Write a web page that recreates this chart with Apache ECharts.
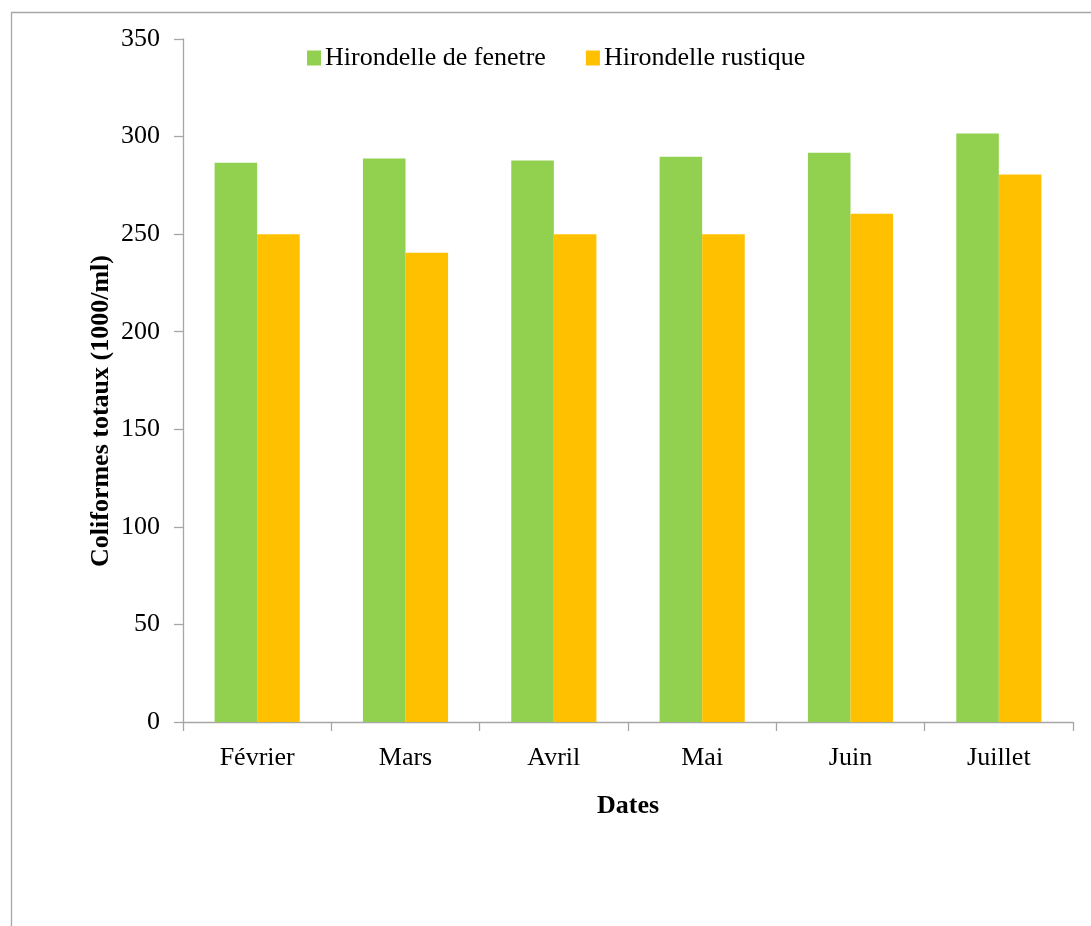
<!DOCTYPE html>
<html>
<head>
<meta charset="utf-8">
<script src="https://cdn.jsdelivr.net/npm/echarts@6/dist/echarts.min.js"></script>
<style>
html,body{margin:0;padding:0;background:#fff;}
#chart{width:1091px;height:926px;}
</style>
</head>
<body>
<div id="chart"></div>
<script>
const categories = ['Février', 'Mars', 'Avril', 'Mai', 'Juin', 'Juillet'];
const seriesNames = ['Hirondelle de fenetre', 'Hirondelle rustique'];
const fenetreValues = [286.6, 288.7, 287.7, 289.7, 291.7, 301.6];
const rustiqueValues = [250, 240.5, 250, 250, 260.5, 280.5];
const yTicks = [0, 50, 100, 150, 200, 250, 300, 350];
const yTitle = 'Coliformes totaux (1000/ml)';
const xTitle = 'Dates';

const FONT = '"Liberation Serif", "Times New Roman", serif';
const AXIS_COLOR = '#a6a6a6';

const chart = echarts.init(document.getElementById('chart'));
chart.setOption({
  backgroundColor: '#fff',
  animation: false,
  textStyle: { fontFamily: FONT },
  grid: { left: 183, right: 18, top: 39, bottom: 204, containLabel: false },
  legend: {
    data: seriesNames,
    left: 307,
    top: 44,
    padding: 0,
    icon: 'rect',
    itemWidth: 14,
    itemHeight: 15,
    itemGap: 40,
    textStyle: { fontFamily: FONT, fontSize: 26, color: '#000', lineHeight: 28, padding: [0, 0, 0, -1] }
  },
  xAxis: {
    type: 'category',
    data: categories,
    name: xTitle,
    nameLocation: 'middle',
    nameGap: 71,
    nameTextStyle: { fontFamily: FONT, fontSize: 26, fontWeight: 'bold', color: '#000' },
    axisLine: { show: true, lineStyle: { color: AXIS_COLOR, width: 1.3 } },
    axisTick: { show: true, length: 9, lineStyle: { color: AXIS_COLOR, width: 1.3 } },
    axisLabel: { fontFamily: FONT, fontSize: 26, color: '#000', margin: 23 }
  },
  yAxis: {
    type: 'value',
    min: yTicks[0],
    max: yTicks[yTicks.length - 1],
    interval: 50,
    axisLine: { show: true, lineStyle: { color: AXIS_COLOR, width: 1.3 } },
    axisTick: { show: true, length: 9, lineStyle: { color: AXIS_COLOR, width: 1.3 } },
    splitLine: { show: false },
    axisLabel: { fontFamily: FONT, fontSize: 26, color: '#000', margin: 23 }
  },
  graphic: [
    {
      type: 'rect',
      shape: { x: 11.5, y: 12.5, width: 1200, height: 1000 },
      style: { fill: 'none', stroke: AXIS_COLOR, lineWidth: 1.3 },
      silent: true
    },
    {
      type: 'text',
      x: 101,
      y: 411,
      rotation: Math.PI / 2,
      style: {
        text: yTitle,
        font: 'bold 26px ' + FONT,
        fill: '#000',
        align: 'center',
        verticalAlign: 'middle'
      }
    }
  ],
  series: [
    {
      name: seriesNames[0],
      type: 'bar',
      data: fenetreValues,
      barGap: '0%',
      barCategoryGap: '42.6%',
      itemStyle: { color: '#92d050' }
    },
    {
      name: seriesNames[1],
      type: 'bar',
      data: rustiqueValues,
      barGap: '0%',
      barCategoryGap: '42.6%',
      itemStyle: { color: '#ffc000' }
    }
  ]
});
</script>
</body>
</html>
